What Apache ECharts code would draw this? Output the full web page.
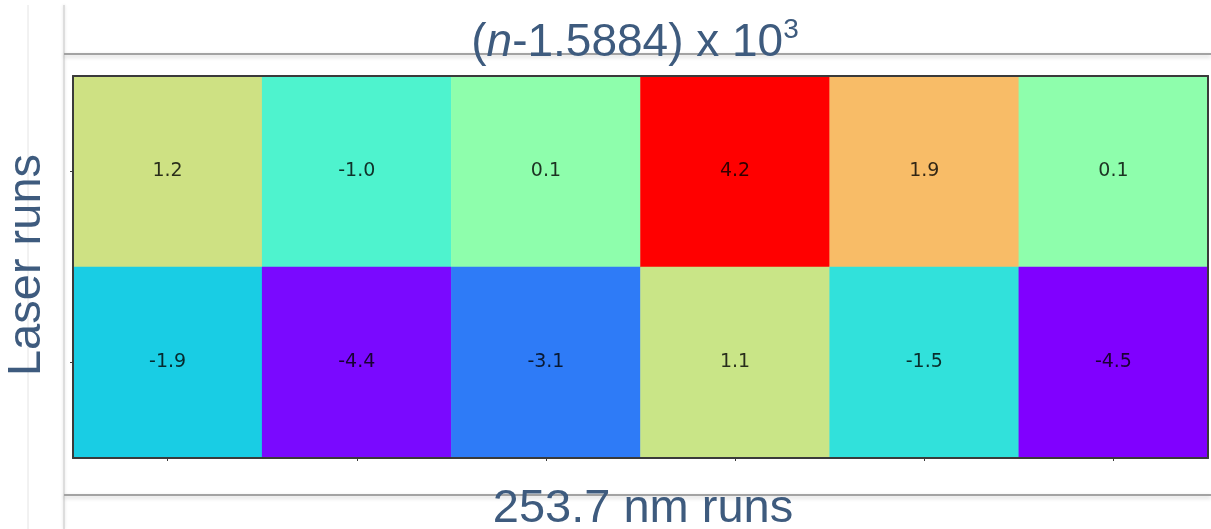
<!DOCTYPE html>
<html>
<head>
<meta charset="utf-8">
<title>(n-1.5884) x 10^3</title>
<script src="https://cdn.jsdelivr.net/npm/echarts@6/dist/echarts.min.js"></script>
<style>
  html, body { margin: 0; padding: 0; background: #ffffff; }
  #chart { width: 1211px; height: 529px; }
</style>
</head>
<body>
<div id="chart"></div>
<script>
// Run labels: six 253.7 nm runs across, two laser runs down
const nmRuns = ['1', '2', '3', '4', '5', '6'];
const laserRuns = ['2', '1'];          // bottom row first (category y axis grows upward)

// (n - 1.5884) x 10^3 for each cell
const laserRun1 = [1.2, -1.0, 0.1, 4.2, 1.9, 0.1];
const laserRun2 = [-1.9, -4.4, -3.1, 1.1, -1.5, -4.5];

const colorMin = -4.5;
const colorMax = 4.2;

// Rainbow colour map: purple -> blue -> cyan -> green -> yellow -> red
function rainbow(t) {
  const clamp = v => Math.max(0, Math.min(1, v));
  const r = clamp(Math.abs(2 * t - 0.5));
  const g = clamp(Math.sin(Math.PI * t));
  const b = clamp(Math.cos(Math.PI * t / 2));
  const h = v => Math.round(v * 255).toString(16).padStart(2, '0');
  return '#' + h(r) + h(g) + h(b);
}
const rainbowStops = [];
for (let k = 0; k <= 32; k++) rainbowStops.push(rainbow(k / 32));

const cells = [];
nmRuns.forEach((_, i) => {
  cells.push([i, 1, laserRun1[i]]);
  cells.push([i, 0, laserRun2[i]]);
});

const textColor = '#3e5b7e';
const textFont = '"Liberation Sans", Arial, Helvetica, sans-serif';
const frameColor = '#3a3a3a';

const chart = echarts.init(document.getElementById('chart'), null, { renderer: 'canvas' });

chart.setOption({
  animation: false,
  backgroundColor: '#ffffff',
  grid: { left: 73, right: 3, top: 76, bottom: 71, containLabel: false },
  xAxis: [
    {
      type: 'category', data: nmRuns, position: 'bottom', z: 10,
      axisLine: { show: true, lineStyle: { color: frameColor, width: 2 } },
      axisTick: { show: true, alignWithLabel: true, length: 3, lineStyle: { color: frameColor } },
      axisLabel: { show: false }, splitLine: { show: false }
    },
    {
      type: 'category', data: nmRuns, position: 'top', z: 10,
      axisLine: { show: true, lineStyle: { color: frameColor, width: 2 } },
      axisTick: { show: false }, axisLabel: { show: false }, splitLine: { show: false }
    }
  ],
  yAxis: [
    {
      type: 'category', data: laserRuns, position: 'left', z: 10,
      axisLine: { show: true, lineStyle: { color: frameColor, width: 2 } },
      axisTick: { show: true, alignWithLabel: true, length: 3, lineStyle: { color: frameColor } },
      axisLabel: { show: false }, splitLine: { show: false }
    },
    {
      type: 'category', data: laserRuns, position: 'right', z: 10,
      axisLine: { show: true, lineStyle: { color: frameColor, width: 2 } },
      axisTick: { show: false }, axisLabel: { show: false }, splitLine: { show: false }
    }
  ],
  visualMap: {
    show: false,
    type: 'continuous',
    min: colorMin,
    max: colorMax,
    dimension: 2,
    inRange: { color: rainbowStops }
  },
  series: [{
    type: 'heatmap',
    xAxisIndex: 0,
    yAxisIndex: 0,
    data: cells,
    itemStyle: { borderWidth: 0 },
    label: {
      show: true,
      formatter: p => p.value[2].toFixed(1),
      color: 'rgba(0,0,0,0.8)',
      fontFamily: '"DejaVu Sans", sans-serif',
      fontSize: 19
    },
    emphasis: { disabled: true }
  }],
  graphic: [
    // side panel edges
    { type: 'line', silent: true, shape: { x1: 28, y1: 5, x2: 28, y2: 529 },
      style: { stroke: '#e4e4e4', lineWidth: 1 } },
    { type: 'line', silent: true, shape: { x1: 64, y1: 5, x2: 64, y2: 529 },
      style: { stroke: '#d6d6d6', lineWidth: 1.5, shadowBlur: 3, shadowColor: 'rgba(0,0,0,0.15)' } },
    // horizontal separators
    { type: 'line', silent: true, shape: { x1: 64, y1: 54, x2: 1211, y2: 54 },
      style: { stroke: '#a3a3a3', lineWidth: 2, shadowBlur: 4, shadowOffsetY: 2, shadowColor: 'rgba(0,0,0,0.2)' } },
    { type: 'line', silent: true, shape: { x1: 64, y1: 495, x2: 1211, y2: 495 },
      style: { stroke: '#a3a3a3', lineWidth: 2, shadowBlur: 4, shadowOffsetY: 2, shadowColor: 'rgba(0,0,0,0.2)' } },
    // title
    {
      type: 'text', silent: true, x: 635, y: 66, z: 20,
      style: {
        text: '{p|(}{i|n}{p|-1.5884) x 10}{s|3}',
        textAlign: 'center', textVerticalAlign: 'bottom',
        rich: {
          p: { fontSize: 46, fontFamily: textFont, fill: textColor, verticalAlign: 'bottom', lineHeight: 50 },
          i: { fontSize: 46, fontFamily: textFont, fontStyle: 'italic', fill: textColor, verticalAlign: 'bottom', lineHeight: 50 },
          s: { fontSize: 28, fontFamily: textFont, fill: textColor, verticalAlign: 'top', lineHeight: 50, padding: [0, 0, 14, 0] }
        }
      }
    },
    // y axis name
    {
      type: 'text', silent: true, x: 27, y: 265, rotation: Math.PI / 2, z: 20,
      style: {
        text: 'Laser runs', fill: textColor, font: '47px ' + textFont,
        textAlign: 'center', textVerticalAlign: 'middle'
      }
    },
    // x axis name
    {
      type: 'text', silent: true, x: 643, y: 509, z: 20,
      style: {
        text: '253.7 nm runs', fill: textColor, font: '47px ' + textFont,
        textAlign: 'center', textVerticalAlign: 'middle'
      }
    }
  ]
});
</script>
</body>
</html>
